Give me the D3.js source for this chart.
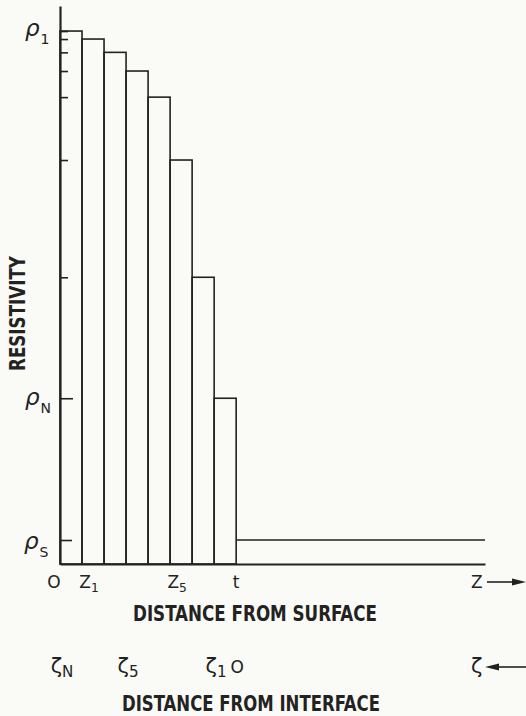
<!DOCTYPE html>
<html>
<head>
<meta charset="utf-8">
<script src="https://cdn.jsdelivr.net/npm/d3@7"></script>
<style>
  html, body { margin: 0; padding: 0; background: #fafaf6; }
  svg { display: block; }
  .cap { font-family: "Liberation Sans Narrow", "DejaVu Sans Condensed", sans-serif; font-weight: bold; fill: #222; }
  .sym { font-family: "DejaVu Sans", sans-serif; fill: #222; }
</style>
</head>
<body>
<svg id="chart" width="526" height="716"></svg>
<script>
// Layer boundaries (depth from surface, in layer-thickness units); t = 8, Z runs to 19.3
const layerEdges = [0, 1, 2, 3, 4, 5, 6, 7, 8];
// Resistivity of each layer, surface (rho_1) to deepest (rho_N)
const layerRho = [100, 98.5, 96.0, 92.5, 87.6, 75.8, 53.8, 31.1];
// Substrate resistivity beyond t
const substrateRho = 4.5;
const depthMax = 19.3;
const rhoMax = 104.7;
// Surface-distance tick labels and their depths
const surfaceLabels = [
  { base: "O", sub: "", z: 0 },
  { base: "Z", sub: "1", z: 1 },
  { base: "Z", sub: "5", z: 5 },
  { base: "t", sub: "", z: 8 }
];
// Interface-distance labels (zeta measured back from t)
const interfaceLabels = [
  { base: "ζ", sub: "N", z: 0 },
  { base: "ζ", sub: "5", z: 3 },
  { base: "ζ", sub: "1", z: 7 },
  { base: "O", sub: "", z: 8 }
];

const svg = d3.select("#chart");
const ink = "#222";

const x = d3.scaleLinear().domain([0, depthMax]).range([60, 485]);
const y = d3.scaleLinear().domain([0, rhoMax]).range([564, 6]);

// Layers as outlined rectangles
const layers = layerRho.map((r, i) => ({ z0: layerEdges[i], z1: layerEdges[i + 1], rho: r }));
svg.append("g").selectAll("rect").data(layers).join("rect")
  .attr("x", d => x(d.z0))
  .attr("y", d => y(d.rho))
  .attr("width", d => x(d.z1) - x(d.z0))
  .attr("height", d => y(0) - y(d.rho))
  .attr("fill", "none")
  .attr("stroke", ink)
  .attr("stroke-width", 1.6);

// Substrate level
svg.append("line")
  .attr("x1", x(layerEdges[layerEdges.length - 1])).attr("x2", x(depthMax))
  .attr("y1", y(substrateRho)).attr("y2", y(substrateRho))
  .attr("stroke", ink).attr("stroke-width", 1.6);

// Resistivity axis with inward ticks at each level
const tickLevels = layerRho.concat([substrateRho]);
const yAxis = svg.append("g")
  .attr("transform", `translate(${x(0)},0)`)
  .call(d3.axisLeft(y).tickValues(tickLevels).tickSizeInner(-8).tickSizeOuter(0).tickFormat(""));
yAxis.select(".domain").attr("stroke", ink).attr("stroke-width", 2.2);
yAxis.selectAll(".tick line").attr("stroke", ink).attr("stroke-width", 1.6)
  .attr("x2", d => (d === layerRho[layerRho.length - 1] ? 13 : d === substrateRho ? 12 : 8));

// Depth baseline
const xAxis = svg.append("g")
  .attr("transform", `translate(0,${y(0)})`)
  .call(d3.axisBottom(x).tickValues([]).tickSizeOuter(0));
xAxis.select(".domain").attr("stroke", ink).attr("stroke-width", 2.2);

// Resistivity symbol labels
function rhoLabel(level, sub, dx, dy) {
  const t = svg.append("text").attr("class", "sym")
    .attr("x", 25 + dx).attr("y", y(level) + dy)
    .attr("font-size", 23).attr("font-style", "italic");
  t.append("tspan").text("ρ");
  t.append("tspan").attr("font-size", 14).attr("font-style", "normal")
    .attr("dy", 8).attr("dx", 1).text(sub);
}
rhoLabel(layerRho[0], "1", 0, 5);
rhoLabel(layerRho[layerRho.length - 1], "N", 0, 7);
rhoLabel(substrateRho, "S", -1, 9);

// Axis title
svg.append("text").attr("class", "cap")
  .attr("transform", `translate(25,${y(47)}) rotate(-90)`)
  .attr("text-anchor", "middle")
  .attr("font-size", 22)
  .attr("textLength", 115).attr("lengthAdjust", "spacingAndGlyphs")
  .text("RESISTIVITY");

// Surface-distance labels
function subLabel(d, yy, size) {
  const t = svg.append("text").attr("class", "sym")
    .attr("x", x(d.z)).attr("y", yy)
    .attr("text-anchor", "middle")
    .attr("font-size", size);
  t.append("tspan").text(d.base);
  if (d.sub) t.append("tspan").attr("font-size", size * 0.72).attr("dy", 4).text(d.sub);
  return t;
}
surfaceLabels.forEach(d => {
  const t = subLabel(d, 588, 17);
  if (d.base === "O") t.attr("x", x(d.z) - 6);
  if (d.sub) t.attr("x", x(d.z) + 7);
});
// Z with right arrow
svg.append("text").attr("class", "sym").attr("x", 471).attr("y", 588).attr("font-size", 17).text("Z");
svg.append("line").attr("x1", 487).attr("x2", 514).attr("y1", 582).attr("y2", 582).attr("stroke", ink).attr("stroke-width", 1.6);
svg.append("path").attr("d", "M512,578.5 L526,582 L512,585.5 Z").attr("fill", ink);

svg.append("text").attr("class", "cap")
  .attr("x", 133).attr("y", 621)
  .attr("font-size", 22)
  .attr("textLength", 244).attr("lengthAdjust", "spacingAndGlyphs")
  .text("DISTANCE FROM SURFACE");

// Interface-distance labels
interfaceLabels.forEach(d => {
  const t = subLabel(d, 673, d.base === "O" ? 17 : 21);
  if (d.base === "O") t.attr("x", x(d.z) + 1);
  else t.attr("x", x(d.z) + 2);
});
// zeta with left arrow
svg.append("text").attr("class", "sym").attr("x", 471).attr("y", 673).attr("font-size", 21).text("ζ");
svg.append("path").attr("d", "M485,667 L499,663.5 L499,670.5 Z").attr("fill", ink);
svg.append("line").attr("x1", 497).attr("x2", 526).attr("y1", 667).attr("y2", 667).attr("stroke", ink).attr("stroke-width", 1.6);

svg.append("text").attr("class", "cap")
  .attr("x", 122).attr("y", 711)
  .attr("font-size", 22)
  .attr("textLength", 258).attr("lengthAdjust", "spacingAndGlyphs")
  .text("DISTANCE FROM INTERFACE");
</script>
</body>
</html>
